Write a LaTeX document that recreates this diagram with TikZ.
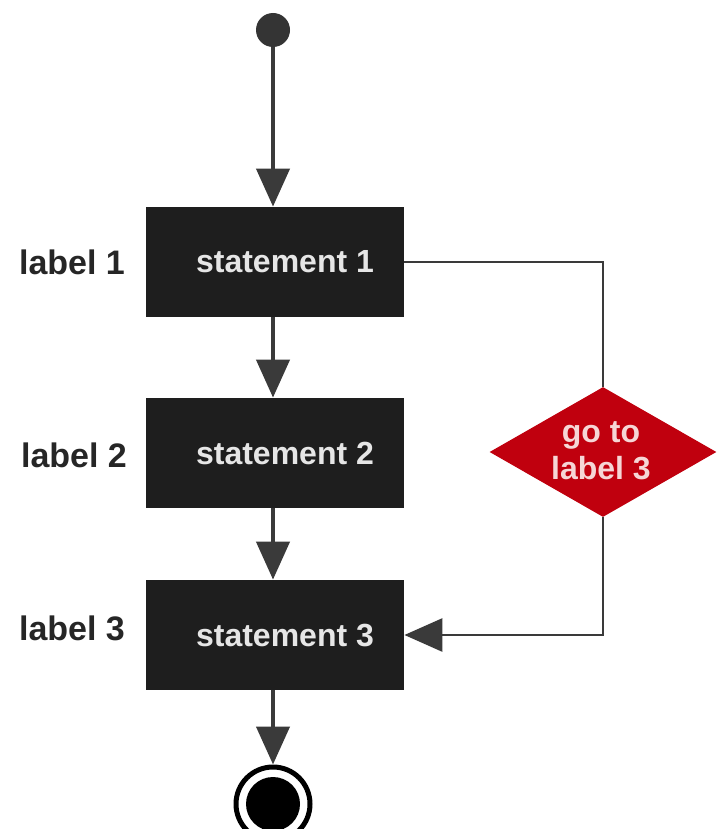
\documentclass[tikz,border=0pt]{standalone}
\usepackage{fontspec}
\setmainfont{Liberation Sans}
\usetikzlibrary{shapes.geometric,arrows.meta}
\definecolor{boxfill}{HTML}{1E1E1E}
\definecolor{boxtext}{HTML}{E6E6E6}
\definecolor{linecol}{HTML}{3A3A3A}
\definecolor{labcol}{HTML}{262626}
\definecolor{diared}{HTML}{C0000E}
\definecolor{diatext}{HTML}{F6D6D6}
\tikzset{
  stmt/.style={rectangle, fill=boxfill, minimum width=129pt, minimum height=55pt, inner sep=0pt,
    text=boxtext, font=\fontsize{16}{18}\selectfont\bfseries},
  lab/.style={text=labcol, font=\fontsize{17}{19}\selectfont\bfseries, inner sep=0pt},
  flow/.style={draw=linecol, line width=2.2pt, -{Triangle[width=16.5pt,length=19pt]}},
  loopline/.style={draw=linecol, line width=1.4pt},
  startdot/.style={circle, fill=linecol!90!black, minimum size=17pt, inner sep=0pt},
  decide/.style={diamond, fill=diared, minimum width=113.5pt, minimum height=65pt, inner sep=0pt},
  decidetext/.style={text=diatext, font=\fontsize{16}{18.5}\selectfont\bfseries, align=center, inner sep=0pt}
}
\begin{document}
\begin{tikzpicture}[x=0.5pt,y=-0.5pt]
\useasboundingbox (0,0) rectangle (720,829);
\node[startdot] (start) at (273,30) {};
\node[stmt] (b1) at (275,262) {\hspace*{10pt}statement 1};
\node[stmt] (b2) at (275,453) {\hspace*{10pt}statement 2};
\node[stmt] (b3) at (275,635) {\hspace*{10pt}statement 3};
\node[lab] (l1) at (72,262) {label 1};
\node[lab] (l2) at (74,455) {label 2};
\node[lab] (l3) at (72,628) {label 3};
\node[decide] (dia) at (603,452) {};
\node[decidetext] (diat) at (601,451) {go to\\label 3};
\node[circle, draw=black, line width=2.5pt, fill=white, minimum size=37pt, inner sep=0pt] (endo) at (273,804) {};
\node[circle, fill=black, minimum size=27pt, inner sep=0pt] (endi) at (endo.center) {};
\draw[flow] (start) -- (start |- b1.north);
\draw[flow] (b1.south -| start) -- (b2.north -| start);
\draw[flow] (b2.south -| start) -- (b3.north -| start);
\draw[flow] (b3.south -| start) -- (endo.north);
\draw[loopline] (b1.east) -- (b1.east -| dia.north) -- (dia.north);
\draw[loopline, -{Triangle[width=16.5pt,length=19pt]}] (dia.south) |- (b3.east);
\end{tikzpicture}
\end{document}
